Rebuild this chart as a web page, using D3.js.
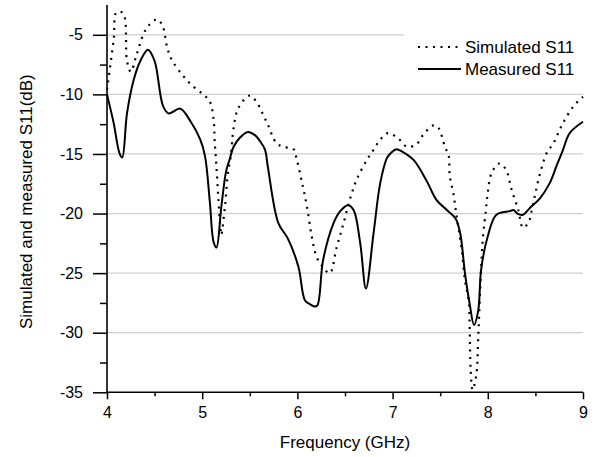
<!DOCTYPE html>
<html>
<head>
<meta charset="utf-8">
<script src="https://cdn.jsdelivr.net/npm/d3@7"></script>
<style>
  body { margin: 0; background: #fff; }
  svg text { font-family: "Liberation Sans", Arial, sans-serif; fill: #000; }
</style>
</head>
<body>
<div id="chart"></div>
<script>
// Simulated S11 (dotted)
const simFreq = [4.0, 4.07, 4.1, 4.17, 4.21, 4.25, 4.31, 4.38, 4.44, 4.53, 4.59, 4.63, 4.68, 4.8, 4.9,
  5.01, 5.08, 5.12, 5.13, 5.15, 5.17, 5.19, 5.2, 5.24, 5.27, 5.3, 5.33, 5.38, 5.5, 5.59, 5.64, 5.69,
  5.78, 5.85, 5.96, 5.99, 6.05, 6.1, 6.15, 6.2, 6.25, 6.34, 6.41, 6.48, 6.55, 6.62, 6.73, 6.8, 6.87,
  6.95, 7.06, 7.15, 7.25, 7.32, 7.43, 7.48, 7.55, 7.59, 7.6, 7.64, 7.67, 7.7, 7.73, 7.76, 7.8, 7.81,
  7.82, 7.84, 7.88, 7.9, 7.93, 7.95, 7.98, 8.0, 8.04, 8.12, 8.19, 8.25, 8.32, 8.37, 8.43, 8.46, 8.5,
  8.55, 8.62, 8.69, 8.78, 8.9, 9.0];
const simS11 = [-9.6, -5.4, -3.1, -3.2, -7.2, -8.1, -6.7, -5.0, -4.2, -3.7, -4.4, -6.0, -7.1, -8.45, -9.3,
  -10.0, -10.6, -12.1, -13.8, -16.1, -18.8, -21.1, -21.8, -19.3, -16.6, -15.2, -12.8, -11.15, -10.1, -10.9, -11.7, -12.55,
  -14.1, -14.4, -14.6, -15.35, -17.45, -19.4, -21.9, -23.6, -24.3, -25.0, -22.9, -20.95, -18.85, -17.2, -15.5, -14.65, -13.8,
  -13.25, -13.7, -14.4, -14.2, -13.4, -12.6, -12.8, -14.4, -15.2, -16.8, -18.4, -20.1, -21.6, -23.3, -25.6, -27.4, -29.9,
  -33.1, -34.8, -33.5, -30.3, -24.5, -21.9, -19.7, -18.2, -16.6, -15.8, -16.3, -18.0, -19.7, -21.2, -20.7, -19.8, -18.3,
  -16.6, -14.9, -14.1, -12.55, -11.0, -10.2];

// Measured S11 (solid)
const measFreq = [4.0, 4.07, 4.13, 4.16, 4.21, 4.28, 4.35, 4.43, 4.5, 4.59, 4.65, 4.77, 4.88, 4.98,
  5.03, 5.08, 5.12, 5.15, 5.2, 5.25, 5.29, 5.33, 5.4, 5.48, 5.55, 5.61, 5.66, 5.69, 5.8, 5.9, 6.01,
  6.08, 6.13, 6.18, 6.21, 6.27, 6.38, 6.45, 6.53, 6.59, 6.66, 6.72, 6.8, 6.87, 6.94, 6.99, 7.04, 7.1,
  7.22, 7.36, 7.46, 7.57, 7.66, 7.71, 7.76, 7.81, 7.855, 7.9, 7.93, 8.0, 8.09, 8.23, 8.27, 8.31,
  8.37, 8.44, 8.55, 8.65, 8.72, 8.79, 8.86, 9.0];
const measS11 = [-10.0, -12.4, -14.9, -15.3, -11.6, -8.8, -7.2, -6.25, -7.2, -11.0, -11.6, -11.2, -12.3, -13.8,
  -15.2, -19.0, -22.4, -22.85, -19.5, -16.5, -15.4, -14.4, -13.6, -13.15, -13.4, -13.95, -14.65, -16.1, -20.8, -22.1, -24.45,
  -27.3, -27.6, -27.8, -27.7, -23.9, -20.8, -19.8, -19.3, -19.7, -22.5, -26.3, -21.65, -17.45, -15.35, -14.85, -14.6, -14.8,
  -15.5, -17.3, -18.85, -19.7, -20.4, -21.65, -25.0, -27.6, -29.35, -28.1, -24.7, -21.9, -20.1, -19.8, -19.7, -20.0,
  -20.1, -19.55, -18.7, -17.45, -16.05, -14.65, -13.25, -12.3];

const xTicks = [4, 5, 6, 7, 8, 9];
const yTicks = [-35, -30, -25, -20, -15, -10, -5];
const seriesNames = ["Simulated S11", "Measured S11"];

const width = 599, height = 457;
const margin = {top: 5, right: 15, bottom: 65, left: 107};

const svg = d3.select("#chart").append("svg")
  .attr("width", width)
  .attr("height", height);

const x = d3.scaleLinear().domain([4, 9]).range([margin.left, 583]);
const y = d3.scaleLinear().domain([-35, -2.5]).range([392.3, margin.top]);

// horizontal grid lines
svg.append("g")
  .selectAll("line")
  .data(yTicks.filter(d => d > -35))
  .join("line")
  .attr("x1", x(4)).attr("x2", x(9))
  .attr("y1", d => y(d)).attr("y2", d => y(d))
  .attr("stroke", "#cfcfcf")
  .attr("stroke-width", 1.2);

// curves
const line = d3.line()
  .x(d => x(d[0]))
  .y(d => y(d[1]))
  .curve(d3.curveCatmullRom.alpha(0.5));

const simData = simFreq.map((f, i) => [f, simS11[i]]);
const measData = measFreq.map((f, i) => [f, measS11[i]]);

svg.append("path")
  .datum(simData)
  .attr("d", line)
  .attr("fill", "none")
  .attr("stroke", "#000")
  .attr("stroke-width", 2.2)
  .attr("stroke-dasharray", "2 5.5");

svg.append("path")
  .datum(measData)
  .attr("d", line)
  .attr("fill", "none")
  .attr("stroke", "#000")
  .attr("stroke-width", 2)
  .attr("stroke-linejoin", "round");

// axes (plain hyphen for negative labels)
const fmt = d => String(d);
const yAxis = svg.append("g")
  .attr("transform", `translate(${x(4)},0)`)
  .call(d3.axisLeft(y).tickValues(yTicks).tickSize(14).tickPadding(10).tickFormat(fmt));
const yMinor = svg.append("g")
  .attr("transform", `translate(${x(4)},0)`)
  .call(d3.axisLeft(y).tickValues(yTicks.slice(0, -1).map(d => d + 2.5)).tickSize(7).tickFormat(""));
const xAxis = svg.append("g")
  .attr("transform", `translate(0,${y(-35)})`)
  .call(d3.axisBottom(x).tickValues(xTicks).tickSize(7).tickPadding(7).tickFormat(fmt));
const xMinor = svg.append("g")
  .attr("transform", `translate(0,${y(-35)})`)
  .call(d3.axisBottom(x).tickValues(xTicks.slice(0, -1).map(d => d + 0.5)).tickSize(4).tickFormat(""));

[yAxis, yMinor, xAxis, xMinor].forEach(g => {
  g.select(".domain").remove();
  g.selectAll("line").attr("stroke", "#000").attr("stroke-width", 1.5);
  g.selectAll("text").style("font-size", "16px").attr("fill", "#000");
});

// axis lines
svg.append("line")
  .attr("x1", x(4)).attr("x2", x(4))
  .attr("y1", y(-2.5)).attr("y2", y(-35))
  .attr("stroke", "#000").attr("stroke-width", 1.6);
svg.append("line")
  .attr("x1", x(4)).attr("x2", x(9))
  .attr("y1", y(-35)).attr("y2", y(-35))
  .attr("stroke", "#000").attr("stroke-width", 1.6);

// axis titles
svg.append("text")
  .attr("x", (x(4) + x(9)) / 2)
  .attr("y", 448)
  .attr("text-anchor", "middle")
  .style("font-size", "17px")
  .text("Frequency (GHz)");

svg.append("text")
  .attr("transform", `translate(32,${(y(-2.5) + y(-35)) / 2 + 3}) rotate(-90)`)
  .attr("text-anchor", "middle")
  .style("font-size", "17px")
  .text("Simulated and measured S11(dB)");

// legend
const legend = svg.append("g");
legend.append("rect")
  .attr("x", 404).attr("y", 24)
  .attr("width", 181).attr("height", 60)
  .attr("fill", "#fff");

const legendRows = legend.selectAll("g.row")
  .data(seriesNames)
  .join("g")
  .attr("class", "row")
  .attr("transform", (d, i) => `translate(418,${47 + i * 22})`);

legendRows.append("line")
  .attr("x1", 0).attr("x2", 43)
  .attr("y1", 0).attr("y2", 0)
  .attr("stroke", "#000")
  .attr("stroke-width", (d, i) => i === 0 ? 2.2 : 2)
  .attr("stroke-dasharray", (d, i) => i === 0 ? "2 5.5" : null);

legendRows.append("text")
  .attr("x", 47)
  .attr("y", 6)
  .style("font-size", "17px")
  .text(d => d);
</script>
</body>
</html>
